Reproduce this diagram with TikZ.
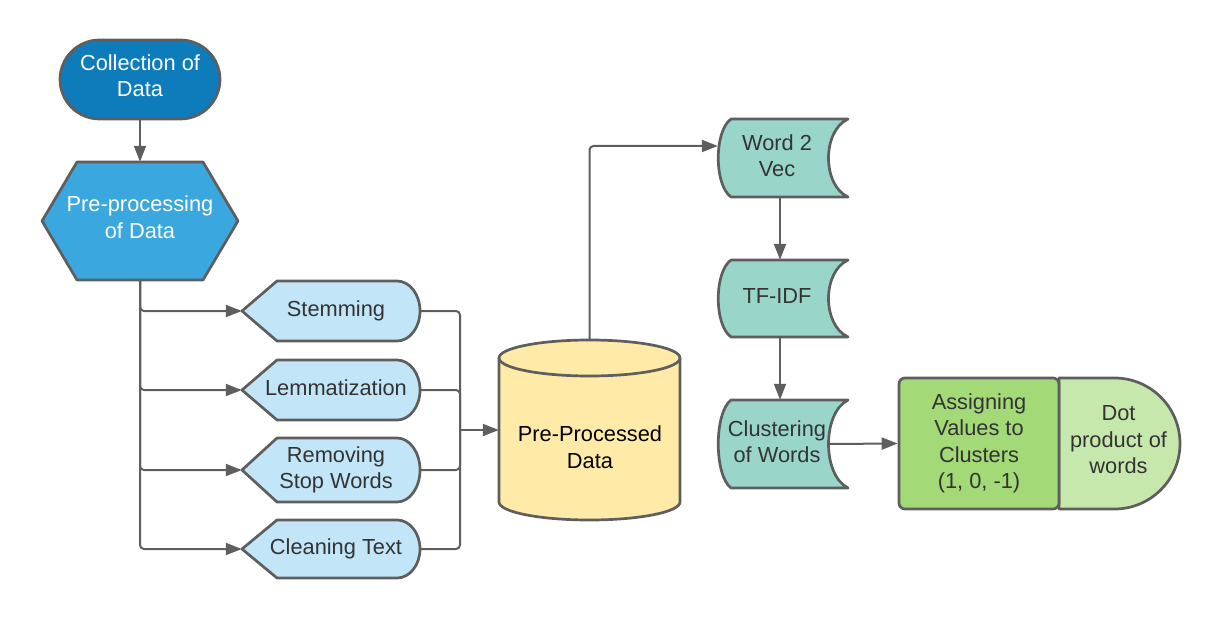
\documentclass[tikz,border=0pt]{standalone}
\usepackage{fontspec}
\setmainfont{Liberation Sans}
\usetikzlibrary{calc,arrows.meta}
\pgfdeclarelayer{bg}
\pgfsetlayers{bg,main}
\definecolor{cblue}{HTML}{0E7BBB}
\definecolor{chex}{HTML}{3AA7DF}
\definecolor{cdisp}{HTML}{C2E5F8}
\definecolor{cyel}{HTML}{FFEAA7}
\definecolor{cteal}{HTML}{9AD5CA}
\definecolor{cgreen}{HTML}{A3D977}
\definecolor{clgreen}{HTML}{C7E8AC}
\definecolor{cline}{HTML}{5E5E5E}
\definecolor{ctext}{HTML}{333333}
\newcommand\padl[1]{\begin{tabular}{@{\hspace{10pt}}c@{}}#1\end{tabular}}
\newcommand\padr[1]{\begin{tabular}{@{}c@{\hspace{12pt}}}#1\end{tabular}}
\newcommand\lift{\rule[-8pt]{0pt}{8pt}}
\tikzset{
 lbl/.style={rectangle, inner sep=0pt, align=center, text=ctext, font=\fontsize{21.8}{26.5}\selectfont},
 outline/.style={draw=cline, line width=2.7pt, line join=round},
 conn/.style={draw=cline, line width=2pt, rounded corners=4pt},
 arr/.style={conn, -{Triangle[length=16pt,width=12pt]}},
}
\begin{document}
\begin{tikzpicture}[x=1pt,y=-1pt]
\useasboundingbox (0,0) rectangle (1220,620);
% nodes
\node[lbl, outline, fill=cblue, text=white, minimum width=160pt, minimum height=79pt, rounded corners=39.5pt] (c1) at (140,79.5) {Collection of\\Data\lift};
\node[lbl, text=white, minimum width=196pt, minimum height=118pt] (c2) at (140,221) {Pre-processing\\of Data\lift};
\node[lbl, minimum width=178pt, minimum height=60pt] (d1) at (331,311) {\padl{Stemming}};
\node[lbl, minimum width=178pt, minimum height=60pt] (d2) at (331,390) {\padl{Lemmatization}};
\node[lbl, minimum width=178pt, minimum height=64pt] (d3) at (331,470) {\padl{Removing\\Stop Words}};
\node[lbl, minimum width=178pt, minimum height=58pt] (d4) at (331,549) {\padl{Cleaning Text}};
\node[lbl, minimum width=181pt, minimum height=180pt] (db) at (589.5,430) {};
\node[lbl, text=black] (dbt) at (590,447) {Pre-Processed\\Data};
\node[lbl, minimum width=130pt, minimum height=78pt] (w1) at (783,158) {\padr{Word 2\\Vec}};
\node[lbl, minimum width=130pt, minimum height=77pt] (w2) at (783,298.5) {\padr{TF-IDF}};
\node[lbl, minimum width=130pt, minimum height=88pt] (w3) at (783,444) {\padr{Clustering\\of Words}};
\node[lbl, outline, fill=cgreen, rounded corners=6pt, minimum width=160pt, minimum height=131pt] (a1) at (979,443.5) {Assigning\\Values to\\Clusters\\(1, 0, -1)};
\node[lbl, minimum width=121pt, minimum height=131pt] (a2) at (1118.5,443.5) {Dot\\product of\\words\rule[-8pt]{0pt}{8pt}};
% shapes
\begin{pgfonlayer}{bg}
\draw[outline, fill=chex] (42,221) -- (77,162) -- (203,162) -- (238,221) -- (203,280) -- (77,280) -- cycle;
\draw[outline, fill=cdisp] (242,311) -- (277,281) -- (397,281) arc[start angle=90,end angle=-90,x radius=23pt,y radius=30pt] -- (277,341) -- cycle;
\draw[outline, fill=cdisp] (242,390) -- (277,360) -- (397,360) arc[start angle=90,end angle=-90,x radius=23pt,y radius=30pt] -- (277,420) -- cycle;
\draw[outline, fill=cdisp] (242,470) -- (277,438) -- (397,438) arc[start angle=90,end angle=-90,x radius=23pt,y radius=32pt] -- (277,502) -- cycle;
\draw[outline, fill=cdisp] (242,549) -- (277,520) -- (397,520) arc[start angle=90,end angle=-90,x radius=23pt,y radius=29pt] -- (277,578) -- cycle;
\draw[outline, fill=cyel] (499,358) -- (499,502) arc[start angle=180,end angle=360,x radius=90.5pt,y radius=18pt] -- (680,358) arc[start angle=0,end angle=180,x radius=90.5pt,y radius=18pt] -- cycle;
\draw[outline] (499,358) arc[start angle=180,end angle=360,x radius=90.5pt,y radius=18pt];
\draw[outline, fill=cteal] (731,119) -- (848,119) .. controls (822,131) and (822,185) .. (848,197) -- (731,197) .. controls (714,185) and (714,131) .. (731,119) -- cycle;
\draw[outline, fill=cteal] (731,260) -- (848,260) .. controls (822,272) and (822,325) .. (848,337) -- (731,337) .. controls (714,325) and (714,272) .. (731,260) -- cycle;
\draw[outline, fill=cteal] (731,400) -- (848,400) .. controls (822,413) and (822,475) .. (848,488) -- (731,488) .. controls (714,475) and (714,413) .. (731,400) -- cycle;
\draw[outline, fill=clgreen] (1059,378) -- (1114.5,378) arc[start angle=90,end angle=-90,radius=65.5pt] -- (1059,509) -- cycle;
\end{pgfonlayer}
% connectors
\coordinate (jn) at (460,430);
\draw[arr] (c1) -- (c2);
\draw[arr] (c2.south) |- (d1.west);
\draw[arr] (c2.south) |- (d2.west);
\draw[arr] (c2.south) |- (d3.west);
\draw[arr] (c2.south) |- (d4.west);
\draw[conn] (d1.east) -| (jn);
\draw[conn] (d2.east) -| (jn);
\draw[conn] (d3.east) -| (jn);
\draw[conn] (d4.east) -| (jn);
\draw[arr] (jn) -- (db.west);
\draw[arr] (db.north) |- ($(w1.west)+(0,-12)$);
\draw[arr] ([xshift=-3pt]w1.south) -- ([xshift=-3pt]w2.north);
\draw[arr] ([xshift=-3pt]w2.south) -- ([xshift=-3pt]w3.north);
\draw[arr] ([xshift=-20pt]w3.east) -- (a1.west);
\end{tikzpicture}
\end{document}
